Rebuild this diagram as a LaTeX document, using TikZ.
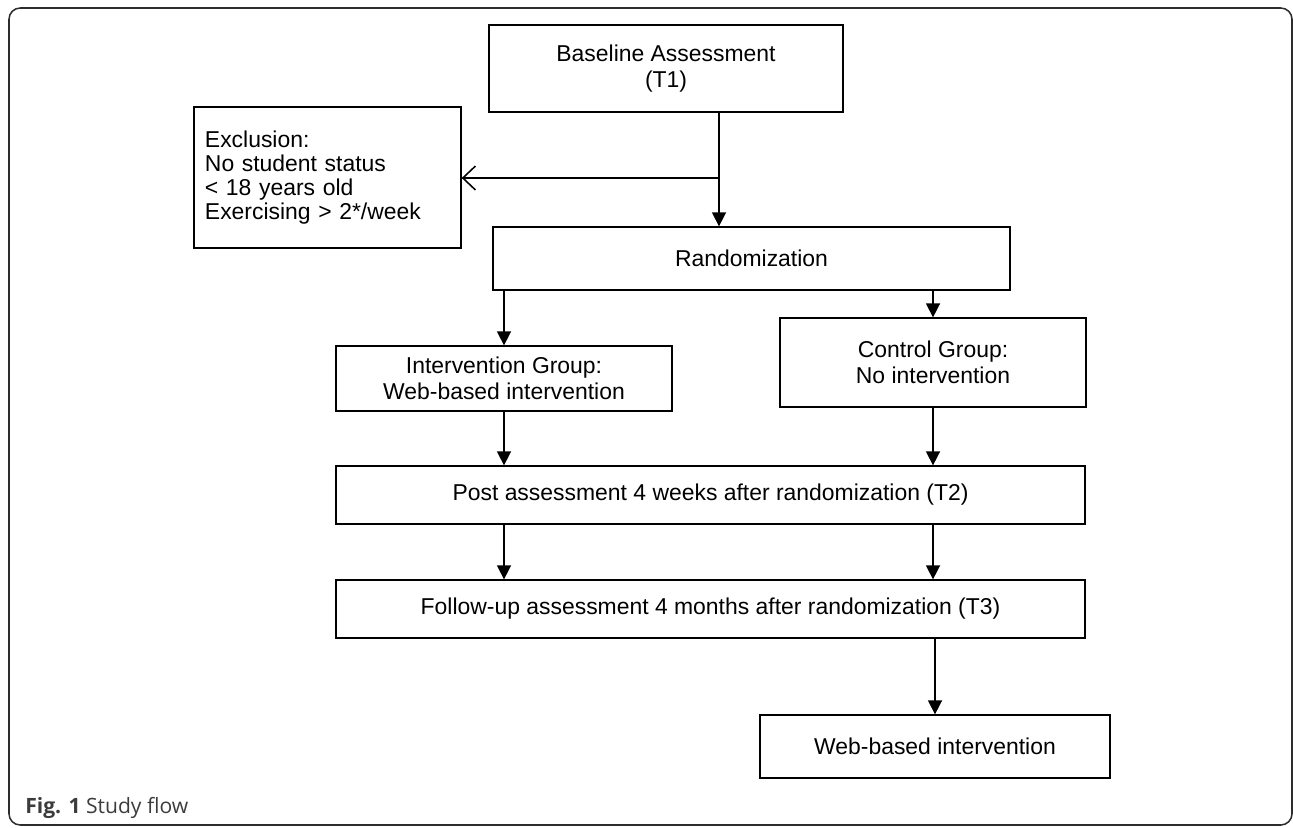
\documentclass[tikz,border=0pt]{standalone}
\usepackage{fontspec}
\setmainfont{Liberation Sans}
\newfontfamily\capfont{Open Sans}
\usetikzlibrary{arrows.meta,positioning,calc}
\definecolor{framegray}{RGB}{45,45,45}
\definecolor{capgray}{RGB}{60,60,60}

\begin{document}
\begin{tikzpicture}[
  x=0.025cm, y=-0.025cm,
  box/.style={rectangle, draw=black, line width=0.9pt, text centered, inner sep=0pt,
              font=\fontsize{16.3}{18.9}\selectfont},
  arr/.style={-{Triangle[length=10pt,width=10pt]}, line width=1.1pt},
  barb/.style={-{Straight Barb[length=9pt,width=17pt]}, line width=1.1pt},
  every node/.style={align=center}
]
\useasboundingbox (0,0) rectangle (1293,827);
\draw[framegray, line width=1.1pt, rounded corners=8pt] (9,8) rectangle (1292,825);

\node[box, minimum width=8.85cm, minimum height=2.175cm](base) at (666,68.5){Baseline Assessment\\(T1)};
\node[box, minimum width=6.675cm, minimum height=3.525cm, align=left, text width=6.125cm,
      font=\fontsize{16.3}{16.9}\selectfont](excl) at (327.5,177.5)
     {Exclusion:\\No student status\\< 18 years old\\Exercising > 2*/week};
\node[box, minimum width=12.925cm, minimum height=1.575cm](rand) at (751.5,258.5){Randomization};
\node[box, minimum width=8.4cm, minimum height=1.625cm](interv) at (504,378.5){Intervention Group:\\Web-based intervention};
\node[box, minimum width=7.65cm, minimum height=2.225cm](ctrl) at (933,362.5){Control Group:\\No intervention};
\node[box, minimum width=18.725cm, minimum height=1.45cm](post) at (710.5,495){Post assessment 4 weeks after randomization (T2)};
\node[box, minimum width=18.725cm, minimum height=1.45cm](follow) at (710.5,609){Follow-up assessment 4 months after randomization (T3)};
\node[box, minimum width=8.75cm, minimum height=1.575cm](web) at (935,746.5){Web-based intervention};

\node[anchor=base west, inner sep=0pt, text=capgray, font=\capfont\fontsize{15}{17}\selectfont](cap) at (25,813)
     {\textbf{Fig. 1} Study flow};

\coordinate (split) at (719,178);
\draw[line width=1.1pt] (base.south -| split) -- (split);
\draw[arr] (split) -- (rand.north -| split);
\draw[barb] (split) -- (excl.east |- split);

\draw[arr] (rand.south -| interv) -- (interv.north);
\draw[arr] (rand.south -| ctrl) -- (ctrl.north);
\draw[arr] (interv.south) -- (post.north -| interv);
\draw[arr] (ctrl.south) -- (post.north -| ctrl);
\draw[arr] (post.south -| interv) -- (follow.north -| interv);
\draw[arr] (post.south -| ctrl) -- (follow.north -| ctrl);
\draw[arr] (follow.south -| web) -- (web.north);
\end{tikzpicture}
\end{document}
